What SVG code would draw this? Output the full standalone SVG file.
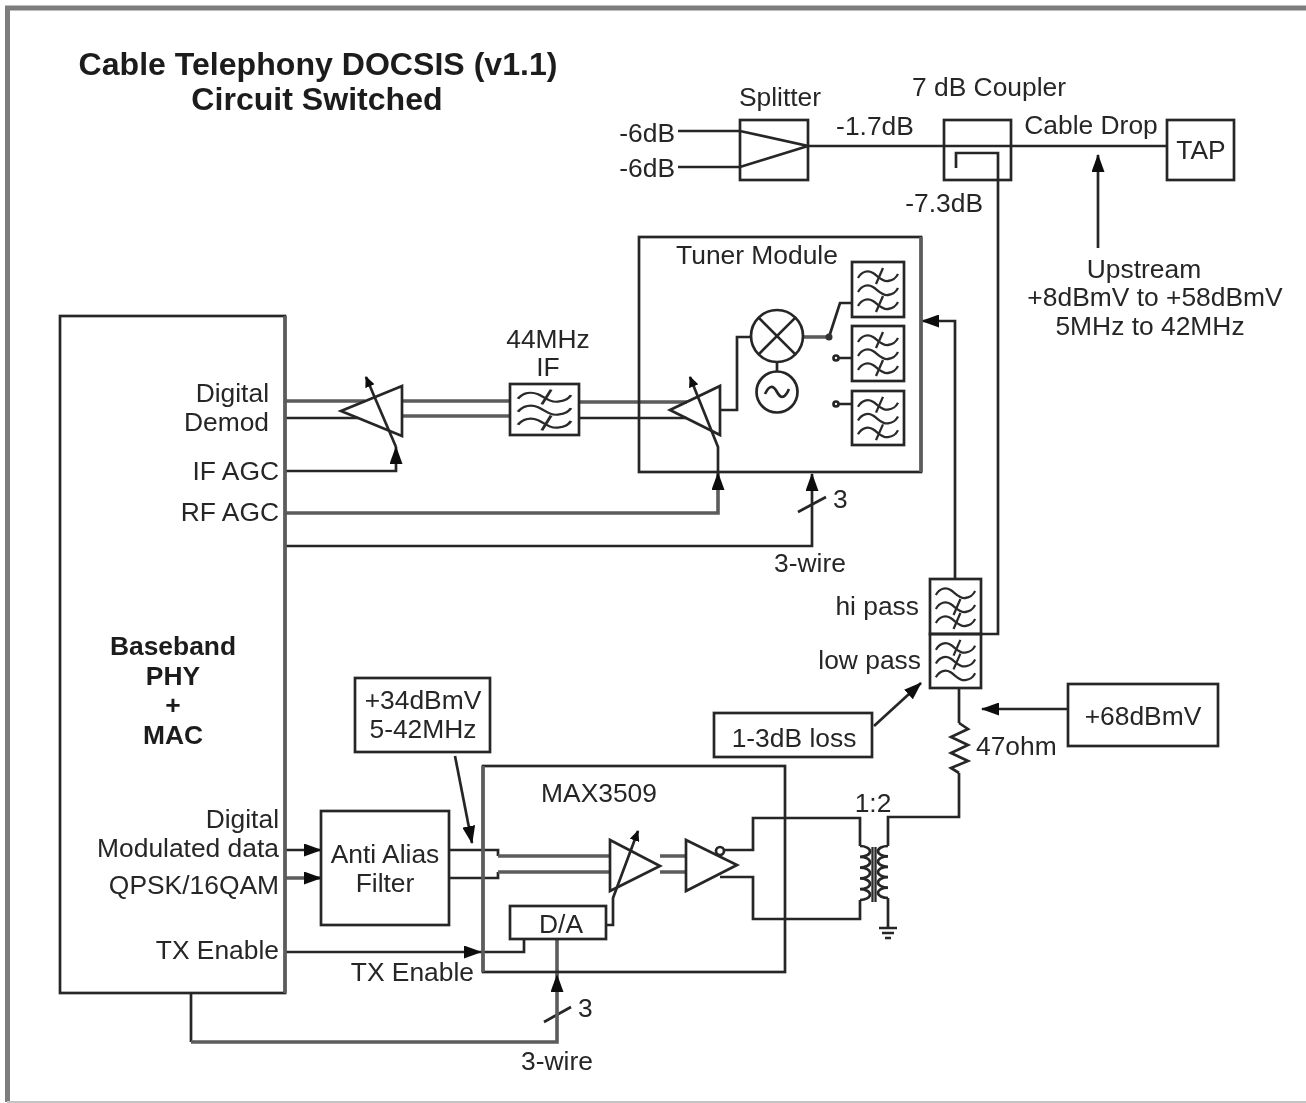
<svg xmlns="http://www.w3.org/2000/svg" width="1306" height="1103" viewBox="0 0 1306 1103">
<style>
text{font-family:"Liberation Sans",Arial,sans-serif;font-size:26.400px;fill:#262626;transform:translateY(1px)}
.b{font-weight:bold;fill:#1c1c1c}
.t{font-size:32.100px}
.m{text-anchor:middle}
.e{text-anchor:end}
.s{fill:none;stroke:#262626;stroke-width:2.7;stroke-linejoin:miter}
.g{fill:none;stroke:#5c5c5c;stroke-width:3.6}
.f{fill:none;stroke:#2a2a2a;stroke-width:2.300}
.a{marker-end:url(#arrow)}
.v{marker-end:url(#small)}
</style>
<defs>
<filter id="soft" x="0" y="0" width="100%" height="100%" filterUnits="userSpaceOnUse"><feGaussianBlur stdDeviation="0.75"/></filter>
<marker id="arrow" markerUnits="userSpaceOnUse" viewBox="0 0 18 13" refX="17" refY="6.5" markerWidth="18" markerHeight="13" orient="auto"><path d="M0 0L18 6.5L0 13Z" fill="#111"/></marker>
<marker id="small" markerUnits="userSpaceOnUse" viewBox="0 0 11 10" refX="10" refY="5" markerWidth="11" markerHeight="10" orient="auto"><path d="M0 0L11 5L0 10Z" fill="#111"/></marker>
<path id="w1" d="M6 16C10 9 16 8 21 11S30 20 36 19S44 16 46 12"/>
<path id="w2" d="M6 30C10 23 16 22 21 25S30 34 36 33S44 30 46 26"/>
<path id="w3" d="M6 44C10 37 16 36 21 39S30 48 36 47S44 44 46 40"/>
<symbol id="band" viewBox="0 0 52 55" preserveAspectRatio="none" overflow="visible">
<g class="f"><use href="#w1"/><use href="#w2"/><use href="#w3"/><path d="M31 6L24 22M31 34L24 50"/></g>
</symbol>
<symbol id="high" viewBox="0 0 52 55" preserveAspectRatio="none" overflow="visible">
<g class="f"><use href="#w1"/><use href="#w2"/><use href="#w3"/><path d="M31 20L24 36M31 34L24 50"/></g>
</symbol>
<symbol id="low" viewBox="0 0 52 55" preserveAspectRatio="none" overflow="visible">
<g class="f"><use href="#w1"/><use href="#w2"/><use href="#w3"/><path d="M31 6L24 22M31 20L24 36"/></g>
</symbol>
</defs>
<rect width="1306" height="1103" fill="#fff"/>
<g filter="url(#soft)">
<g id="frame"><path d="M7.500 1102V8H1306" fill="none" stroke="#7d7d7d" stroke-width="5"/><path d="M7 1102H1306" stroke="#c4c4c4" stroke-width="2"/></g>
<g id="title"><text class="b t m" x="318" y="74">Cable Telephony DOCSIS (v1.1)</text><text class="b t m" x="317" y="109">Circuit Switched</text></g>

<g id="connectors">
<path class="s" d="M678 131H740L808 146L740 167H678"/>
<path class="s" d="M808 146H1167"/>
<path class="s" d="M956 168V153H998V634H981"/>
<path class="s a" d="M955 579V321H922"/>
<path class="s a" d="M1098 248V155"/>
<path class="g" d="M285 401H365M402 401H510M579 402H687"/>
<path class="s" d="M285 418H358"/>
<path class="g" d="M402 416H510"/>
<path class="s" d="M579 418H687"/>
<path class="s" d="M720 410H737V337H750"/>
<path class="g" d="M803 337H829"/>
<path class="s" d="M829 337L840 303H852M838 358H852M838 404H852"/>
<path class="s a" d="M285 471H396V447"/>
<path class="s v" d="M396 447L366 377"/>
<path class="g a" d="M285 513H718V473"/>
<path class="s v" d="M718 473V447L690 377"/>
<path class="s a" d="M285 546H812V474"/>
<path class="s" d="M798 512L826 497M544 1022L571 1007"/>
<path class="s a" d="M285 850H321"/>
<path class="g a" d="M285 878H321"/>
<path class="s" d="M449 850H498V856"/>
<path class="g" d="M498 856H610M660 856H686"/>
<path class="s" d="M449 878H498V872"/>
<path class="g" d="M498 872H610M660 872H686"/>
<path class="s v" d="M606 925H613V898L638 831"/>
<path class="s" d="M724 850H753V818H860V846"/>
<path class="s" d="M720 877H753V919H860V900"/>
<path class="s" d="M888 846V817H959V773M959 723V688M888 898V928"/>
<path class="s a" d="M285 952H481"/>
<path class="s" d="M481 952H524V939"/>
<path class="s" d="M191 993V1042"/>
<path class="g a" d="M191 1042H557V975"/>
<path class="g" d="M557 975V939"/>
<path class="s a" d="M455 756L472 843"/>
<path class="s a" d="M874 726L921 683"/>
<path class="s a" d="M1068 709H982"/>
</g>

<g id="splitter"><rect class="s" x="740" y="120" width="68" height="60"/><text class="m" x="780" y="105">Splitter</text><text class="e" x="675" y="141">-6dB</text><text class="e" x="675" y="176">-6dB</text><text class="m" x="875" y="134">-1.7dB</text></g>
<g id="coupler"><rect class="s" x="944" y="120" width="67" height="60"/><text class="m" x="989" y="95">7 dB Coupler</text><text class="e" x="983" y="211">-7.3dB</text></g>
<g id="cable-drop"><text class="m" x="1091" y="133">Cable Drop</text></g>
<g id="tap"><rect class="s" x="1167" y="120" width="67" height="60"/><text class="m" x="1201" y="158">TAP</text></g>
<g id="upstream"><text class="m" x="1144" y="277">Upstream</text><text class="m" x="1155" y="305">+8dBmV to +58dBmV</text><text class="m" x="1150" y="334">5MHz to 42MHz</text></g>

<g id="tuner-module"><rect class="s" x="639" y="237" width="282" height="235"/><path class="g" d="M921 237V472"/><text class="m" x="757" y="263">Tuner Module</text></g>
<g id="tuner-filter-1"><rect class="s" x="852" y="262" width="52" height="55"/><use href="#band" x="852" y="262" width="52" height="55"/></g>
<g id="tuner-filter-2"><rect class="s" x="852" y="326" width="52" height="55"/><use href="#band" x="852" y="326" width="52" height="55"/></g>
<g id="tuner-filter-3"><rect class="s" x="852" y="391" width="52" height="54"/><use href="#band" x="852" y="391" width="52" height="54"/></g>
<g id="mixer"><circle class="s" cx="777" cy="336" r="26"/><path class="s" d="M758.600 317.600L795.400 354.400M795.400 317.600L758.600 354.400M777 362V372"/></g>
<g id="oscillator"><circle class="s" cx="777" cy="392" r="20.500"/><path class="s" d="M765 394q6-13 12-2t12-3"/></g>
<g id="switch"><circle cx="829" cy="337" r="3.500" fill="#333"/><circle class="s" cx="836" cy="358" r="2.500"/><circle class="s" cx="836" cy="404" r="2.500"/></g>
<g id="tuner-amp"><path class="s" d="M670 410L720 386V435Z"/></g>
<g id="if-amp"><path class="s" d="M341 411L402 386V436Z"/></g>
<g id="if-filter"><rect class="s" x="510" y="384" width="69" height="51"/><use href="#band" x="510" y="384" width="69" height="51"/><text class="m" x="548" y="347">44MHz</text><text class="m" x="548" y="375">IF</text></g>

<g id="baseband"><rect class="s" x="60" y="316" width="225" height="677"/><path class="g" d="M285 316V993"/>
<text class="b m" x="173" y="654">Baseband</text><text class="b m" x="173" y="684">PHY</text><text class="b m" x="173" y="713">+</text><text class="b m" x="173" y="743">MAC</text>
<text class="e" x="269" y="401">Digital</text><text class="e" x="269" y="430">Demod</text><text class="e" x="279" y="479">IF AGC</text><text class="e" x="279" y="520">RF AGC</text>
<text class="e" x="279" y="827">Digital</text><text class="e" x="279" y="856">Modulated data</text><text class="e" x="279" y="893">QPSK/16QAM</text><text class="e" x="279" y="958">TX Enable</text></g>

<g id="tuner-bus-label"><text x="833" y="507">3</text><text class="m" x="810" y="571">3-wire</text></g>
<g id="hi-pass"><rect class="s" x="930" y="579" width="51" height="55"/><use href="#high" x="930" y="579" width="51" height="55"/><text class="e" x="919" y="614">hi pass</text></g>
<g id="low-pass"><rect class="s" x="930" y="634" width="51" height="54"/><use href="#low" x="930" y="634" width="51" height="54"/><text class="e" x="921" y="668">low pass</text></g>
<g id="loss"><rect class="s" x="714" y="713" width="158" height="44"/><text class="m" x="794" y="746">1-3dB loss</text></g>
<g id="power"><rect class="s" x="1068" y="684" width="150" height="62"/><text class="m" x="1143" y="724">+68dBmV</text></g>
<g id="resistor"><path class="s" d="M959 723L968 729L951 737L968 745L951 753L968 761L951 768L959 773"/><text x="976" y="754">47ohm</text></g>
<g id="transformer"><text class="m" x="873" y="811">1:2</text>
<path class="s" d="M860 846a10 5.400 0 0 1 0 10.800a10 5.400 0 0 1 0 10.800a10 5.400 0 0 1 0 10.800a10 5.400 0 0 1 0 10.800a10 5.400 0 0 1 0 10.800"/>
<path class="s" d="M888 846a10 5.200 0 0 0 0 10.400a10 5.200 0 0 0 0 10.400a10 5.200 0 0 0 0 10.400a10 5.200 0 0 0 0 10.400a10 5.200 0 0 0 0 10.400"/>
<path class="f" d="M872.500 847V902M875.500 847V902"/></g>
<g id="ground"><path class="s" d="M879 928H897M882 933H894M885 938H891"/></g>
<g id="level"><rect class="s" x="355" y="678" width="135" height="74"/><text class="m" x="423" y="708">+34dBmV</text><text class="m" x="423" y="737">5-42MHz</text></g>
<g id="anti-alias"><rect class="s" x="321" y="811" width="128" height="114"/><text class="m" x="385" y="862">Anti Alias</text><text class="m" x="385" y="891">Filter</text></g>
<g id="max3509"><rect class="s" x="483" y="766" width="302" height="206"/><path class="g" d="M483 766V972"/><text class="m" x="599" y="801">MAX3509</text><text class="e" x="474" y="980">TX Enable</text></g>
<g id="var-amp"><path class="s" d="M610 840L660 866L610 891Z"/></g>
<g id="driver"><path class="s" d="M686 840L737 865L686 891Z"/><circle class="s" cx="720" cy="851" r="4" fill="#fff"/></g>
<g id="da"><rect class="s" x="510" y="906" width="96" height="33"/><text class="m" x="561" y="932">D/A</text></g>
<g id="tx-bus-label"><text x="578" y="1016">3</text><text class="m" x="557" y="1069">3-wire</text></g>
</g>
</svg>
